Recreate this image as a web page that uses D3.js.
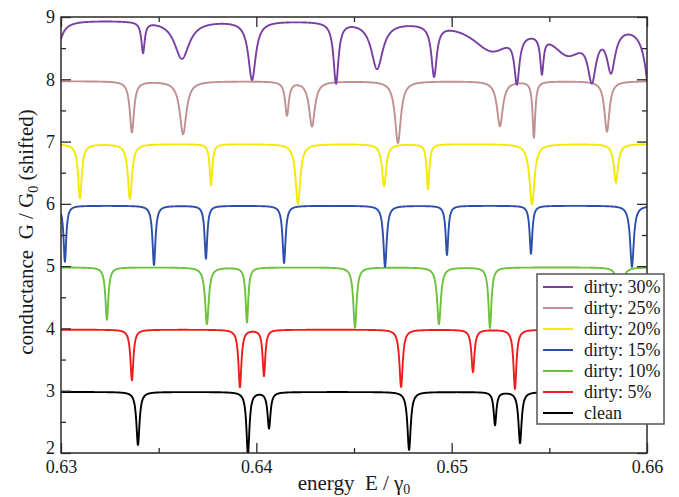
<!DOCTYPE html>
<html>
<head>
<meta charset="utf-8">
<script src="https://cdn.jsdelivr.net/npm/d3@7"></script>
<style>
  html, body { margin: 0; padding: 0; background: #fff; }
  svg { display: block; font-family: "Liberation Serif", "Times New Roman", serif; }
  svg text { font-family: "Liberation Serif", "Times New Roman", serif; }
</style>
</head>
<body>
<svg id="chart" width="679" height="497"></svg>
<script>
// Axis ranges and ticks
const energyDomain = [0.63, 0.66];
const conductanceDomain = [2, 9];
const xTickValues = [0.63, 0.64, 0.65, 0.66];
const xTickLabels = ["0.63", "0.64", "0.65", "0.66"];
const xMinorTicks = [0.635, 0.645, 0.655];
const yTickValues = [2, 3, 4, 5, 6, 7, 8, 9];
const yMinorTicks = [2.5, 3.5, 4.5, 5.5, 6.5, 7.5, 8.5];

// Series, legend order (top curve first)
const seriesNames = ["dirty: 30%", "dirty: 25%", "dirty: 20%", "dirty: 15%", "dirty: 10%", "dirty: 5%", "clean"];
const seriesColors = ["#7a3fa3", "#c09090", "#f2ea00", "#2c4fae", "#6cc23a", "#f01c1c", "#000000"];
// conductance plateau of each curve (already shifted by one G0 per curve)
const plateaus = [8.95, 7.97, 6.96, 5.97, 4.98, 3.98, 2.98];

// Resonances of each curve: energy of the dip, dip depth (in G0) and half width (in energy)
const dipEnergy30 = [0.62964, 0.63420, 0.63619, 0.63978, 0.64408, 0.64618, 0.64910, 0.65206, 0.65334, 0.65462, 0.65596, 0.65718, 0.65816, 0.66031];
const dipDepth30  = [0.89, 0.49, 0.61, 0.94, 0.98, 0.75, 0.82, 0.45, 0.74, 0.585, 0.48, 0.73, 0.67, 1.85];
const dipWidth30  = [0.000256, 0.000102, 0.000461, 0.000230, 0.000154, 0.000358, 0.000164, 0.001229, 0.000154, 0.000102, 0.001024, 0.000256, 0.000256, 0.000307];

const dipEnergy25 = [0.63363, 0.63625, 0.64157, 0.64285, 0.64725, 0.65247, 0.65421, 0.65795];
const dipDepth25  = [0.82, 0.85, 0.54, 0.72, 0.99, 0.72, 0.90, 0.81];
const dipWidth25  = [0.000128, 0.000205, 0.000113, 0.000179, 0.000179, 0.000179, 0.000082, 0.000154];

const dipEnergy20 = [0.63097, 0.63353, 0.63768, 0.64213, 0.64654, 0.64879, 0.65411, 0.65841];
const dipDepth20  = [0.87, 0.88, 0.66, 0.96, 0.67, 0.72, 0.97, 0.62];
const dipWidth20  = [0.000113, 0.000128, 0.000082, 0.000143, 0.000128, 0.000082, 0.000154, 0.000128];

const dipEnergy15 = [0.63020, 0.63476, 0.63742, 0.64142, 0.64659, 0.64976, 0.65406, 0.65923];
const dipDepth15  = [0.90, 0.95, 0.85, 0.92, 0.98, 0.79, 0.77, 0.98];
const dipWidth15  = [0.000082, 0.000092, 0.000082, 0.000092, 0.000102, 0.000082, 0.000082, 0.000113];

const dipEnergy10 = [0.63235, 0.63747, 0.63952, 0.64505, 0.64935, 0.65196, 0.65862];
const dipDepth10  = [0.84, 0.91, 0.88, 0.97, 0.91, 0.97, 0.90];
const dipWidth10  = [0.000092, 0.000113, 0.000082, 0.000102, 0.000113, 0.000092, 0.000102];

const dipEnergy5 = [0.63363, 0.63916, 0.64039, 0.64741, 0.65109, 0.65324];
const dipDepth5  = [0.81, 0.92, 0.74, 0.92, 0.68, 0.95];
const dipWidth5  = [0.000092, 0.000092, 0.000082, 0.000102, 0.000092, 0.000092];

const dipEnergyClean = [0.63394, 0.63957, 0.64065, 0.64782, 0.65222, 0.65350];
const dipDepthClean  = [0.85, 1.00, 0.58, 0.93, 0.53, 0.82];
const dipWidthClean  = [0.000097, 0.000092, 0.000092, 0.000102, 0.000082, 0.000097];

const dipEnergies = [dipEnergy30, dipEnergy25, dipEnergy20, dipEnergy15, dipEnergy10, dipEnergy5, dipEnergyClean];
const dipDepths   = [dipDepth30, dipDepth25, dipDepth20, dipDepth15, dipDepth10, dipDepth5, dipDepthClean];
const dipWidths   = [dipWidth30, dipWidth25, dipWidth20, dipWidth15, dipWidth10, dipWidth5, dipWidthClean];

// ---- layout ----
const W = 679, H = 497;
const margin = { left: 61, right: 32, top: 17, bottom: 44 };
const innerW = W - margin.left - margin.right;   // 586
const innerH = H - margin.top - margin.bottom;   // 436
const serif = "'Liberation Serif', 'Times New Roman', serif";

const svg = d3.select("#chart");
const x = d3.scaleLinear().domain(energyDomain).range([margin.left, margin.left + innerW]);
const y = d3.scaleLinear().domain(conductanceDomain).range([margin.top + innerH, margin.top]);

svg.append("defs").append("clipPath").attr("id", "plot-clip")
  .append("rect")
  .attr("x", margin.left).attr("y", margin.top)
  .attr("width", innerW).attr("height", innerH);

// conductance of one curve: plateau minus a Lorentzian dip per resonance
function conductance(E, k) {
  let g = plateaus[k];
  const es = dipEnergies[k], ds = dipDepths[k], ws = dipWidths[k];
  for (let i = 0; i < es.length; i++) {
    const u = (E - es[i]) / ws[i];
    g -= ds[i] / (1 + u * u);
  }
  return g;
}

// energy grid: fine steps plus the resonance energies themselves
function energyGrid(k) {
  const step = (energyDomain[1] - energyDomain[0]) / 3000;
  const grid = d3.range(0, 3001).map(i => energyDomain[0] + i * step);
  dipEnergies[k].forEach(e => { if (e > energyDomain[0] && e < energyDomain[1]) grid.push(e); });
  return grid.sort((a, b) => a - b);
}

const line = d3.line()
  .x(d => x(d[0]))
  .y(d => y(d[1]));

const curves = svg.append("g").attr("clip-path", "url(#plot-clip)");
// draw the clean curve first so the dirtier ones sit on top
for (let k = seriesNames.length - 1; k >= 0; k--) {
  const pts = energyGrid(k).map(E => [E, conductance(E, k)]);
  curves.append("path")
    .datum(pts)
    .attr("fill", "none")
    .attr("stroke", seriesColors[k])
    .attr("stroke-width", 1.9)
    .attr("stroke-linejoin", "round")
    .attr("d", line);
}

// ---- frame and ticks (ticks point inward on all four sides) ----
const axisColor = "#2b2b2b";
const frame = svg.append("g");
frame.append("rect")
  .attr("x", margin.left).attr("y", margin.top)
  .attr("width", innerW).attr("height", innerH)
  .attr("fill", "none").attr("stroke", axisColor).attr("stroke-width", 1.5);

const bottomAxis = d3.axisBottom(x).tickValues(xTickValues).tickSize(-10).tickPadding(7).tickFormat((d, i) => xTickLabels[i]);
const topAxis = d3.axisTop(x).tickValues(xTickValues).tickSize(-10).tickFormat("");
const leftAxis = d3.axisLeft(y).tickValues(yTickValues).tickSize(-10).tickPadding(6).tickFormat(d3.format("d"));
const rightAxis = d3.axisRight(y).tickValues(yTickValues).tickSize(-10).tickFormat("");

function styleAxis(g) {
  g.attr("font-family", serif);
  g.select(".domain").remove();
  g.selectAll(".tick line").attr("stroke", axisColor).attr("stroke-width", 1.3);
  g.selectAll(".tick text").attr("fill", "#1a1a1a").attr("font-size", 18)
    .attr("font-family", serif);
}

frame.append("g").attr("transform", `translate(0,${margin.top + innerH})`).call(bottomAxis).call(styleAxis);
frame.append("g").attr("transform", `translate(0,${margin.top})`).call(topAxis).call(styleAxis);
const leftG = frame.append("g").attr("transform", `translate(${margin.left},0)`).call(leftAxis).call(styleAxis);
// the lowest label sits a little above its tick, clear of the energy labels
leftG.selectAll(".tick text").filter(d => d === conductanceDomain[0]).attr("dy", "0em");
frame.append("g").attr("transform", `translate(${margin.left + innerW},0)`).call(rightAxis).call(styleAxis);

// minor ticks
frame.append("g").attr("transform", `translate(0,${margin.top + innerH})`)
  .call(d3.axisBottom(x).tickValues(xMinorTicks).tickSize(-5).tickFormat("")).call(styleAxis);
frame.append("g").attr("transform", `translate(0,${margin.top})`)
  .call(d3.axisTop(x).tickValues(xMinorTicks).tickSize(-5).tickFormat("")).call(styleAxis);
frame.append("g").attr("transform", `translate(${margin.left},0)`)
  .call(d3.axisLeft(y).tickValues(yMinorTicks).tickSize(-5).tickFormat("")).call(styleAxis);
frame.append("g").attr("transform", `translate(${margin.left + innerW},0)`)
  .call(d3.axisRight(y).tickValues(yMinorTicks).tickSize(-5).tickFormat("")).call(styleAxis);

// ---- axis titles ----
const xTitle = svg.append("text")
  .attr("x", margin.left + innerW / 2).attr("y", 490)
  .attr("text-anchor", "middle").attr("font-size", 21).attr("fill", "#1a1a1a")
  .attr("font-family", serif)
  .style("white-space", "pre");
xTitle.append("tspan").text("energy  E / γ");
xTitle.append("tspan").attr("font-size", 14).attr("dy", 4).text("0");

const yTitle = svg.append("text")
  .attr("transform", `translate(33,${margin.top + innerH / 2 - 3}) rotate(-90)`)
  .attr("text-anchor", "middle").attr("font-size", 21).attr("fill", "#1a1a1a")
  .attr("font-family", serif)
  .style("white-space", "pre");
yTitle.append("tspan").text("conductance  G / G");
yTitle.append("tspan").attr("font-size", 14).attr("dy", 5).text("0");
yTitle.append("tspan").attr("dy", -5).text(" (shifted)");

// ---- legend ----
const legend = svg.append("g").attr("transform", "translate(537,274)");
legend.append("rect")
  .attr("x", 0).attr("y", 0).attr("width", 127).attr("height", 150)
  .attr("fill", "#fff").attr("stroke", "#555").attr("stroke-width", 1.5);
const rows = legend.selectAll("g.row").data(seriesNames).join("g")
  .attr("class", "row")
  .attr("transform", (d, i) => `translate(0,${13 + i * 21})`);
rows.append("line")
  .attr("x1", 6).attr("x2", 36).attr("y1", 0).attr("y2", 0)
  .attr("stroke", (d, i) => seriesColors[i]).attr("stroke-width", 2);
rows.append("text")
  .attr("x", 47).attr("y", 6)
  .attr("font-size", 18).attr("fill", "#1a1a1a")
  .attr("font-family", serif)
  .text(d => d);
</script>
</body>
</html>
